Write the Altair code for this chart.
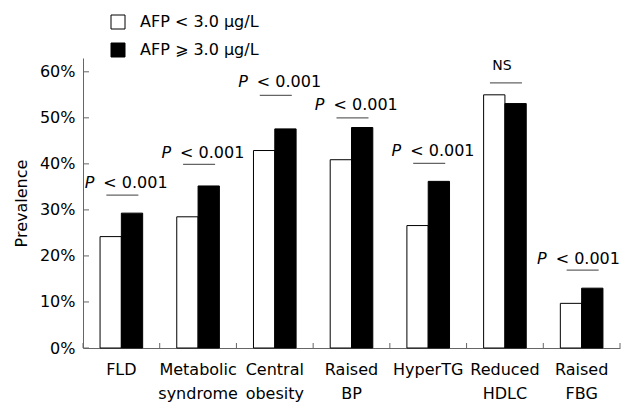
import altair as alt
import pandas as pd

categories = ["FLD", "Metabolic\nsyndrome", "Central\nobesity", "Raised\nBP",
              "HyperTG", "Reduced\nHDLC", "Raised\nFBG"]
groups = ["AFP < 3.0 \u03bcg/L", "AFP \u2a7e 3.0 \u03bcg/L"]
prev_low = [24.2, 28.5, 42.9, 40.9, 26.6, 55.0, 9.7]
prev_high = [29.3, 35.2, 47.6, 47.9, 36.2, 53.1, 13.0]
sig_pre = ["P", "P", "P", "P", "P", "", "P"]
sig_rest = ["< 0.001", "< 0.001", "< 0.001", "< 0.001", "< 0.001", "NS", "< 0.001"]
line_level = [33.2, 39.9, 54.9, 50.0, 40.1, 57.6, 16.9]
text_level = [34.7, 41.2, 56.6, 51.7, 41.7, 60.4, 18.3]
y_ticks = [0, 0.1, 0.2, 0.3, 0.4, 0.5, 0.6]

rows = []
for c, lo, hi in zip(categories, prev_low, prev_high):
    rows.append({"cat": c, "group": groups[0], "value": lo / 100})
    rows.append({"cat": c, "group": groups[1], "value": hi / 100})
bars_df = pd.DataFrame(rows)

ann_df = pd.DataFrame({
    "cat": categories,
    "pre": sig_pre,
    "rest": sig_rest,
    "ly": [v / 100 for v in line_level],
    "ty": [v / 100 for v in text_level],
})
ann_df["last"] = ann_df["cat"] == categories[-1]
yt_df = pd.DataFrame({"v": y_ticks})
last_df = pd.DataFrame({"cat": [categories[-1]]})

FONT = "DejaVu Sans"
AXC = "#666"
xscale = alt.Scale(domain=categories, paddingInner=0, paddingOuter=0)
yscale = alt.Scale(domain=[0, 0.63], nice=False, zero=True)

x_axis = alt.Axis(title=None, ticks=False, tickSize=0, domain=True,
                  domainColor=AXC, labelAngle=0, labelFontSize=16,
                  labelColor="black", labelPadding=13,
                  labelExpr="split(datum.label, '\\n')",
                  labelLineHeight=24, labelBaseline="top", grid=False)
y_axis = alt.Axis(values=y_ticks, format=".0%", title="Prevalence",
                  ticks=False, tickSize=0, domainColor=AXC,
                  labelFontSize=16, labelColor="black", labelPadding=8,
                  titleFontSize=16, titleFontWeight="normal",
                  titleColor="black", titlePadding=10, grid=False)


def X(**kw):
    return alt.X("cat:N", sort=categories, scale=xscale, axis=x_axis, **kw)


def Y(field):
    return alt.Y(field, scale=yscale, axis=y_axis)


bars = alt.Chart(bars_df).mark_bar(stroke="black", strokeWidth=1).encode(
    x=X(),
    xOffset=alt.XOffset("group:N", sort=groups,
                        scale=alt.Scale(domain=groups, paddingInner=0, paddingOuter=0.8)),
    y=Y("value:Q"),
    fill=alt.Fill("group:N", sort=groups,
                  scale=alt.Scale(domain=groups, range=["white", "black"]),
                  legend=alt.Legend(title=None, orient="none", legendX=27, legendY=-44,
                                    symbolType="square", symbolSize=196,
                                    symbolStrokeColor="black", symbolStrokeWidth=1,
                                    symbolOpacity=1, labelFontSize=16, labelOffset=14,
                                    rowPadding=10, padding=0, labelColor="black")),
)

# inward axis ticks
y_ticks_layer = alt.Chart(yt_df).mark_rule(color=AXC, strokeWidth=1).encode(
    y=Y("v:Q"), x=alt.value(0), x2=alt.value(6),
)
x_ticks_layer = alt.Chart(ann_df).mark_rule(color=AXC, strokeWidth=1).encode(
    x=X(bandPosition=0), y=alt.value(290), y2=alt.value(285),
)
x_end_tick = alt.Chart(last_df).mark_rule(color=AXC, strokeWidth=1).encode(
    x=X(bandPosition=1), y=alt.value(290), y2=alt.value(285),
)

lines = alt.Chart(ann_df).mark_tick(size=32, thickness=1.2, xOffset=1, color="#222").encode(
    x=X(), y=Y("ly:Q"),
)

p_text = alt.Chart(ann_df).transform_filter("datum.pre != '' && !datum.last").mark_text(
    align="right", baseline="alphabetic", dx=-27, fontSize=16, fontStyle="italic",
    color="black").encode(x=X(), y=Y("ty:Q"), text="pre:N")

rest_text = alt.Chart(ann_df).transform_filter("datum.rest != 'NS' && !datum.last").mark_text(
    align="left", baseline="alphabetic", dx=-18, fontSize=16, color="black").encode(
    x=X(), y=Y("ty:Q"), text="rest:N")

p_text_last = alt.Chart(ann_df).transform_filter("datum.last").mark_text(
    align="right", baseline="alphabetic", dx=-35, fontSize=16, fontStyle="italic",
    color="black").encode(x=X(), y=Y("ty:Q"), text="pre:N")

rest_text_last = alt.Chart(ann_df).transform_filter("datum.last").mark_text(
    align="left", baseline="alphabetic", dx=-26, fontSize=16, color="black").encode(
    x=X(), y=Y("ty:Q"), text="rest:N")

ns_text = alt.Chart(ann_df).transform_filter("datum.rest == 'NS'").mark_text(
    align="center", baseline="alphabetic", dx=-3, fontSize=14, color="black").encode(
    x=X(), y=Y("ty:Q"), text="rest:N")

chart = alt.layer(bars, y_ticks_layer, x_ticks_layer, x_end_tick, lines,
                  p_text, rest_text, p_text_last, rest_text_last, ns_text).properties(
    width=537, height=290,
    autosize=alt.AutoSizeParams(type="none"),
    padding={"left": 75, "top": 50, "right": 2, "bottom": 54},
).configure(font=FONT).configure_view(stroke=None)

chart.save("out.html", embed_options={"renderer": "svg", "actions": False})
